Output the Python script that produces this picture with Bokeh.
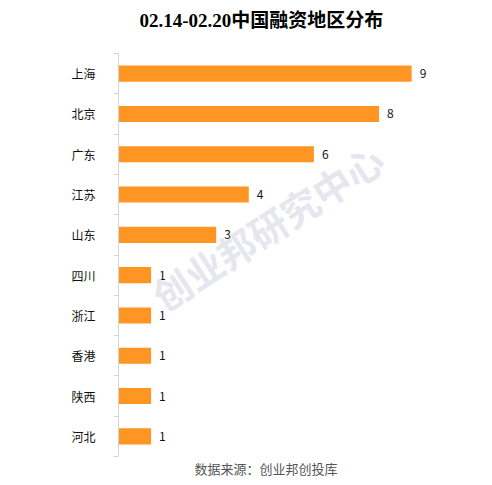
from bokeh.plotting import figure
from bokeh.models import ColumnDataSource, FixedTicker, Title, Label
from bokeh.embed import file_html
from bokeh.resources import INLINE
from bokeh.core.properties import value

regions = ["上海", "北京", "广东", "江苏", "山东", "四川", "浙江", "香港", "陕西", "河北"]
counts = [9, 8, 6, 4, 3, 1, 1, 1, 1, 1]
title_text = "02.14-02.20中国融资地区分布"
source_text = "数据来源：创业邦创投库"
watermark_text = "创业邦研究中心"

n = len(regions)
ypos = [n - 1 - i for i in range(n)]
src = ColumnDataSource(dict(y=ypos, v=counts, lab=[str(c) for c in counts]))

p = figure(width=484, height=477, output_backend="svg", toolbar_location=None,
           x_range=(0, 10.5), y_range=(-0.5, n - 0.5),
           min_border_left=118, min_border_right=24, min_border_top=53, min_border_bottom=20)
p.outline_line_color = None
p.grid.visible = False
p.xaxis.visible = False

# watermark
p.add_layout(Label(x=4.57, y=5.2, text=watermark_text, angle=33, angle_units="deg",
                   text_font="Noto Sans CJK SC", text_font_style="bold", text_font_size="38px",
                   text_color="#E6E6EE", text_align="center", text_baseline="middle"))

p.hbar(y="y", right="v", left=0, height=0.4, source=src, color="#FF9522", line_color=None)
p.text(x="v", y="y", text="lab", source=src, x_offset=8, text_align="left", text_baseline="middle",
       text_font=value("Noto Sans CJK SC"), text_font_size="12px", text_color="#111111")

ya = p.yaxis[0]
ya.ticker = FixedTicker(ticks=ypos, minor_ticks=[k - 0.5 for k in range(n + 1)])
ya.major_label_overrides = {yv: r for yv, r in zip(ypos, regions)}
ya.major_tick_out = 0
ya.major_tick_in = 0
ya.minor_tick_out = 5
ya.minor_tick_in = 0
ya.minor_tick_line_color = "#D4D4D4"
ya.axis_line_color = "#D4D4D4"
ya.major_label_standoff = 18
ya.major_label_text_font = "Noto Sans CJK SC"
ya.major_label_text_font_size = "12px"
ya.major_label_text_color = "#111111"

p.title = Title(text=title_text, align="left", offset=21,
                text_font="Liberation Serif, Noto Sans CJK SC", text_font_style="bold",
                text_font_size="19px", text_color="#000000")
# empty spacer between title and plot frame
p.add_layout(Title(text=" ", text_font_size="14px", standoff=0), "above")
p.add_layout(Title(text=source_text, align="left", offset=76, standoff=0, text_font="Noto Sans CJK SC",
                   text_font_style="normal", text_font_size="13px", text_color="#555555"), "below")

open("out.html", "w").write(file_html(p, INLINE))
